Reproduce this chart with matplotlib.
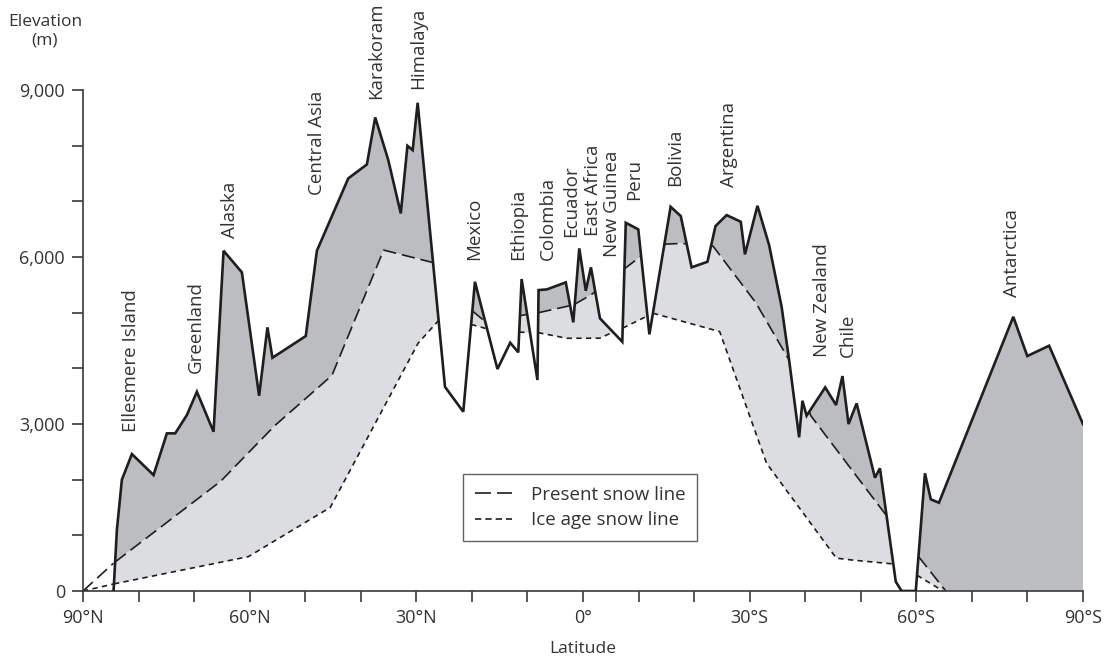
import numpy as np
import matplotlib.pyplot as plt
from matplotlib.lines import Line2D

plt.rcParams['font.family'] = ['Open Sans', 'DejaVu Sans']

# crest profile (latitude: N positive, S negative; elevation in m)
terrain_lat = [84.5, 83.9, 83.0, 81.2, 77.3, 74.9, 73.4, 71.3, 69.5, 66.5, 64.7, 61.4,
               58.3, 56.8, 55.9, 49.9, 47.9, 42.25, 38.9, 37.4, 35.05, 32.8, 31.6, 30.66,
               29.76, 24.84, 21.55, 19.45, 15.4, 13.1, 11.65, 11.05, 8.2, 8.0, 6.5, 3.1,
               1.75, 0.67, -0.5, -1.43, -3.05, -7.07, -7.7, -9.95, -11.95, -15.77, -17.6,
               -19.55, -22.4, -23.85, -25.85, -28.4, -29.15, -31.4, -33.5, -35.75, -37.1,
               -38.9, -39.5, -40.25, -43.6, -45.55, -46.7, -47.8, -49.25, -52.55, -53.45,
               -56.3, -57.35, -59.9, -61.55, -62.6, -64.07, -77.45, -79.97, -83.9, -90.0]
terrain_elev = [0, 1100, 2000, 2460, 2083, 2832, 2832, 3161, 3579, 2861, 6112, 5724,
                3508, 4736, 4190, 4580, 6112, 7412, 7663, 8507, 7741, 6783, 7998, 7920,
                8770, 3667, 3220, 5555, 3987, 4460, 4287, 5604, 3790, 5406, 5418, 5544,
                4826, 6155, 5393, 5814, 4898, 4477, 6615, 6496, 4610, 6902, 6735,
                5814, 5914, 6555, 6753, 6633, 6047, 6920, 6214, 5106, 4149,
                2760, 3418, 3149, 3658, 3341, 3861, 2999, 3371, 2035, 2204,
                168, 0, 0, 2114, 1647, 1586, 4926, 4221, 4406, 2999]

# present snow line
present_lat = [90.0, 84.5, 65.3, 55.7, 45.2, 35.9, 27.0, 19.9, 17.6, 11.5, 8.0, 1.7,
               -1.4, -7.7, -10.3, -14.9, -17.6, -23.4, -31.0, -37.1, -41.0, -54.3,
               -60.5, -65.3]
present_elev = [0, 500, 1963, 2951, 3870, 6125, 5900, 5030, 4840, 4945, 5000, 5140,
                5316, 5807, 6005, 6232, 6245, 6196, 5196, 4149, 3149, 1395,
                605, 0]

# ice age snow line
iceage_lat = [90.0, 84.5, 60.25, 45.5, 29.7, 26.1, 19.8, 17.7, 11.5, 8.0, 3.0, -3.0,
              -4.9, -7.1, -12.6, -24.6, -33.0, -45.6, -48.0, -56.5, -60.0, -64.8]
iceage_elev = [0, 126, 616, 1500, 4450, 4850, 4780, 4720, 4650, 4640, 4540, 4540,
               4630, 4720, 4990, 4660, 2300, 590, 560, 480, 290, 0]

regions = ['Ellesmere Island', 'Greenland', 'Alaska', 'Central Asia', 'Karakoram',
           'Himalaya', 'Mexico', 'Ethiopia', 'Colombia', 'Ecuador', 'East Africa',
           'New Guinea', 'Peru', 'Bolivia', 'Argentina', 'New Zealand', 'Chile',
           'Antarctica']
label_lat = [81.4, 69.7, 63.5, 47.9, 37.3, 29.7, 19.6, 11.7, 6.3, 2.2, -1.8, -5.2,
             -9.2, -16.6, -26.3, -43.0, -47.7, -77.2]
label_base = [2856, 3915, 6340, 7112, 8836, 9016, 5945, 5945, 5945, 6358, 6376, 5999,
              7022, 7274, 7256, 4203, 4203, 5280]

lat_ticks = [90, 60, 30, 0, -30, -60, -90]
lat_tick_labels = ['90°N', '60°N', '30°N', '0°', '30°S', '60°S', '90°S']
elev_ticks = [0, 3000, 6000, 9000]
elev_tick_labels = ['0', '3,000', '6,000', '9,000']

INK = '#1e1e1e'
TXT = '#333333'
DARK = '#bcbdc1'
LIGHT = '#dcdde0'


def on_grid(lat, elev, grid, fill=np.nan):
    # lat runs north -> south (decreasing); np.interp wants increasing x
    return np.interp(-grid, -np.asarray(lat), np.asarray(elev), left=fill, right=fill)


def visible_part(lat, elev):
    # snow line shown only where the crest reaches it (and north of the first crest point)
    g = np.linspace(lat[0], lat[-1], 6000)
    y = on_grid(lat, elev, g)
    ground = on_grid(terrain_lat, terrain_elev, g, 0)
    hide = (ground < y - 1) & (g < terrain_lat[0])
    return g, np.ma.masked_where(hide, y)


fig = plt.figure(figsize=(11.11, 6.61), dpi=100)
ax = fig.add_axes([83 / 1111, 70 / 661, 1000 / 1111, 501 / 661])

xs = np.linspace(90, -90, 9001)
ground = on_grid(terrain_lat, terrain_elev, xs, 0)
snow = on_grid(present_lat, present_elev, xs, 0)
ice = on_grid(iceage_lat, iceage_elev, xs, 0)
top = np.minimum(ground, snow)

ax.fill_between(xs, snow, ground, where=ground > snow, interpolate=True,
                color=DARK, lw=0, zorder=1)
ax.fill_between(xs, ice, top, where=top > ice, interpolate=True,
                color=LIGHT, lw=0, zorder=1)

gx, gy = visible_part(present_lat, present_elev)
ax.plot(gx, gy, color=INK, lw=1.2, ls=(0, (8, 3.5)), zorder=2)
gx, gy = visible_part(iceage_lat, iceage_elev)
ax.plot(gx, gy, color=INK, lw=1.2, ls=(0, (3.2, 2.6)), zorder=2)

ax.plot(terrain_lat, terrain_elev, color=INK, lw=1.9, solid_joinstyle='miter', zorder=3)

for name, la, base in zip(regions, label_lat, label_base):
    ax.text(la, base, name, rotation=90, ha='center', va='bottom', fontsize=13.5,
            color=TXT, clip_on=False)

ax.set_xlim(90, -90)
ax.set_ylim(0, 9000)
ax.set_xticks(lat_ticks)
ax.set_xticklabels(lat_tick_labels)
ax.set_xticks(np.arange(-90, 91, 10), minor=True)
ax.set_yticks(elev_ticks)
ax.set_yticklabels(elev_tick_labels)
ax.set_yticks(np.arange(0, 9001, 1000), minor=True)

for s in ['top', 'right']:
    ax.spines[s].set_visible(False)
for s in ['left', 'bottom']:
    ax.spines[s].set_color('#3a3a3a')
    ax.spines[s].set_linewidth(1.2)
ax.tick_params(which='both', length=8, width=1.2, color='#3a3a3a', labelcolor=TXT,
               labelsize=13)
ax.tick_params(axis='x', pad=5)
ax.tick_params(axis='y', pad=5)

ax.set_xlabel('Latitude', fontsize=12.5, color=TXT, labelpad=10)
fig.text(45 / 1111, 1 - 31 / 661, 'Elevation\n(m)', ha='center', va='center',
         fontsize=12.5, color=TXT, linespacing=1.25)

handles = [Line2D([], [], color=INK, lw=1.2, ls=(0, (9.6, 3.6))),
           Line2D([], [], color=INK, lw=1.2, ls=(0, (3.8, 2.4)))]
leg = ax.legend(handles, ['Present snow line', 'Ice age snow line'],
                loc='lower left', bbox_to_anchor=(0.38, 0.0998), borderaxespad=0,
                frameon=True, fancybox=False, fontsize=13.5, handlelength=2.0,
                handletextpad=1.0, labelcolor=TXT, borderpad=0.62, labelspacing=0.4)
leg.get_frame().set_edgecolor('#3a3a3a')
leg.get_frame().set_linewidth(1.0)
leg.set_zorder(5)

fig.savefig('out.png', dpi=100)
